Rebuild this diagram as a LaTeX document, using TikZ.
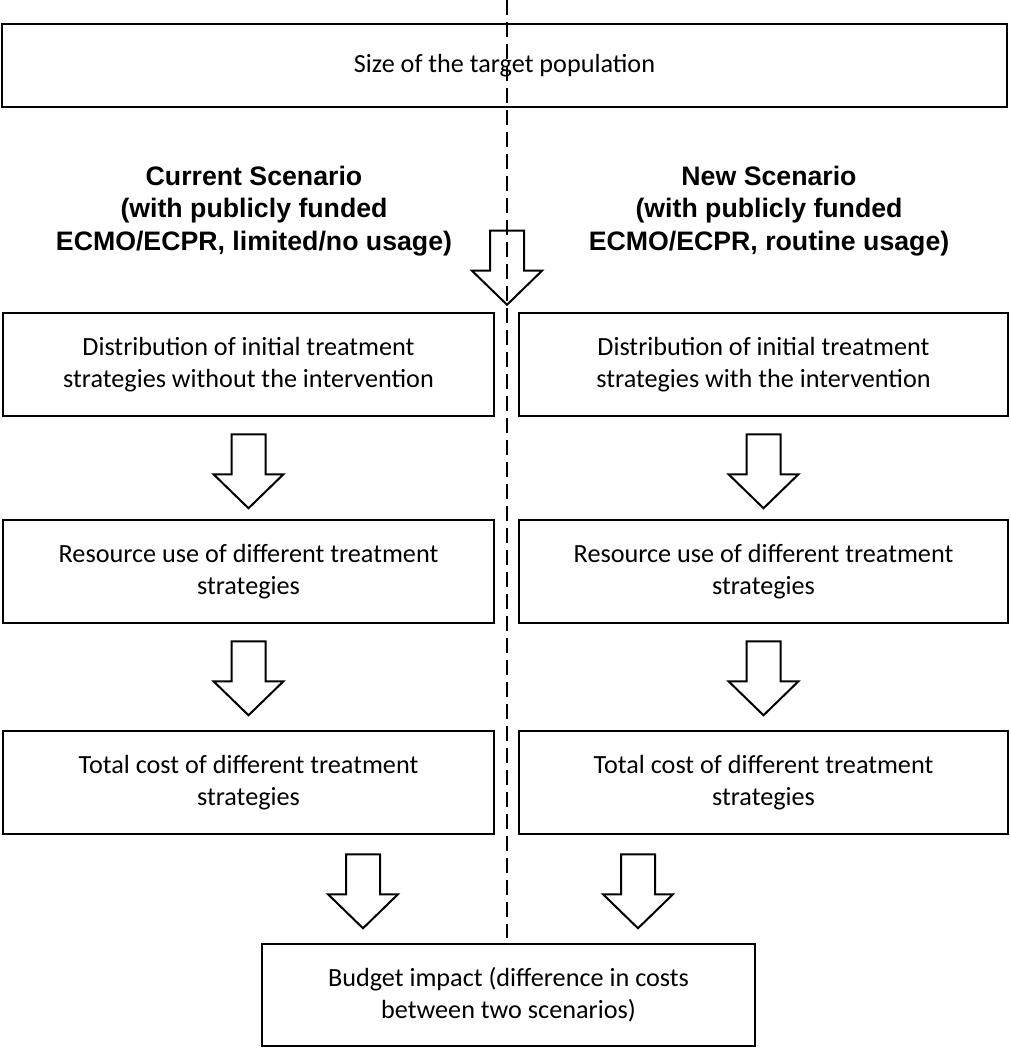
\documentclass[tikz,border=0pt]{standalone}
\usepackage{fontspec}
\setmainfont{Carlito}
\newfontfamily\headfont{Liberation Sans}
\usetikzlibrary{calc}

\tikzset{
  box/.style={draw, line width=2.5pt, inner sep=0pt, align=center,
    font=\fontsize{26.2}{32}\selectfont},
  head/.style={align=center, font=\headfont\bfseries\fontsize{26.7}{32.5}\selectfont},
  blockarr/.style={draw, line width=2pt, fill=white, line join=miter},
  divider/.style={line width=1.5pt, dash pattern=on 15pt off 7pt}
}
\newcommand{\blockarrow}[1]{\draw[blockarr] (#1) ++(-17,0) -- ++(34,0) -- ++(0,-40) -- ++(18,0) -- ++(-35,-34) -- ++(-35,34) -- ++(18,0) -- cycle;}

\begin{document}
\begin{tikzpicture}[x=1pt,y=1pt]
\useasboundingbox (0,0) rectangle (1010,-1048);

\coordinate (top) at (504.5,-65.5);
\coordinate (c1) at (248.5,-364.5);
\coordinate (c2) at (248.5,-571.5);
\coordinate (c3) at (248.5,-782.5);
\coordinate (n1) at (763.5,-364.5);
\coordinate (n2) at (763.5,-571.5);
\coordinate (n3) at (763.5,-782.5);
\coordinate (bot) at (508.5,-995);

% dividing line
\coordinate (divtop) at (507,0);
\coordinate (divbot) at (507,-938);

\node[box, minimum width=1005pt, minimum height=83pt] (size) at (top) {Size of the target population};

\node[head] (curhead) at (254,-211) {Current Scenario\\(with publicly funded\\ECMO/ECPR, limited/no usage)};
\node[head] (newhead) at (769,-211) {New Scenario\\(with publicly funded\\ECMO/ECPR, routine usage)};

\node[box, minimum width=491pt, minimum height=103pt] (distcur) at (c1) {Distribution of initial treatment\\strategies without the intervention};
\node[box, minimum width=491pt, minimum height=103pt] (rescur) at (c2) {Resource use of different treatment\\strategies};
\node[box, minimum width=491pt, minimum height=103pt] (costcur) at (c3) {Total cost of different treatment\\strategies};
\node[box, minimum width=489pt, minimum height=103pt] (distnew) at (n1) {Distribution of initial treatment\\strategies with the intervention};
\node[box, minimum width=489pt, minimum height=103pt] (resnew) at (n2) {Resource use of different treatment\\strategies};
\node[box, minimum width=489pt, minimum height=103pt] (costnew) at (n3) {Total cost of different treatment\\strategies};
\node[box, minimum width=493pt, minimum height=102pt] (budget) at (bot) {Budget impact (difference in costs\\between two scenarios)};

\blockarrow{$(distcur.north -| divtop)+(0,81)$}
\foreach \from in {distcur,rescur,distnew,resnew}
  {\blockarrow{$(\from.south)+(0,-17)$}}
\blockarrow{$(costcur.south)+(114.5,-19)$}
\blockarrow{$(costnew.south)+(-125.5,-19)$}

\draw[divider] (divtop) -- (divbot);
\end{tikzpicture}
\end{document}
